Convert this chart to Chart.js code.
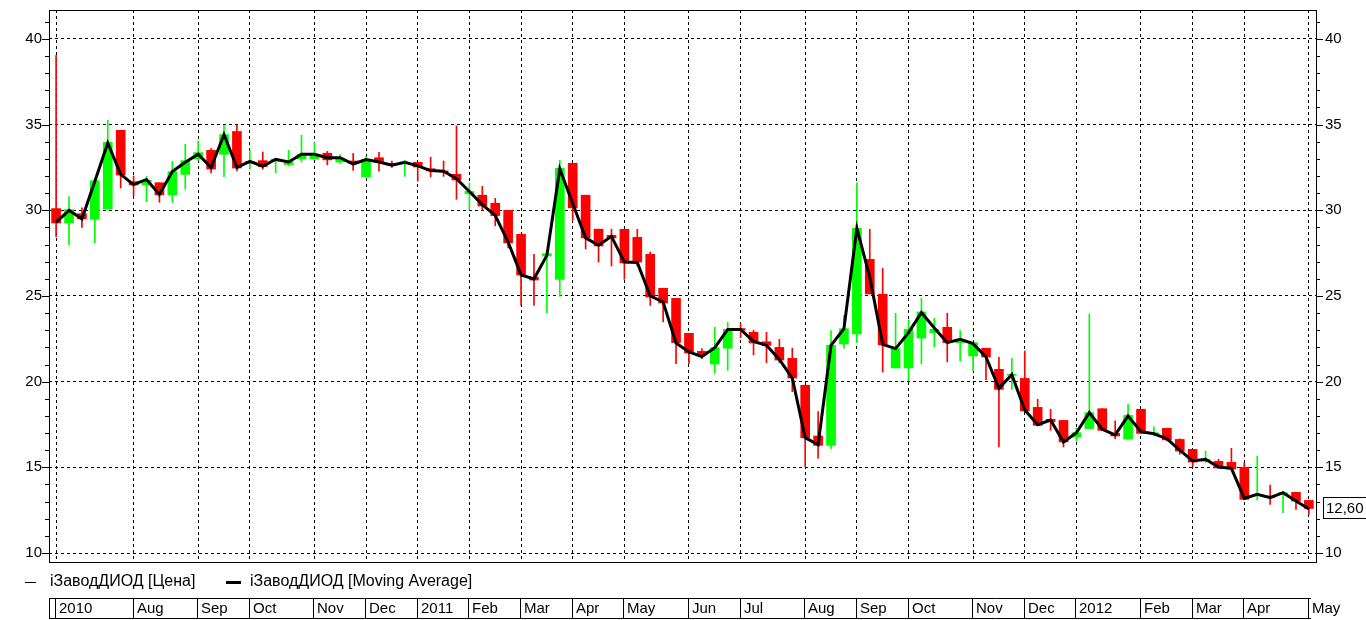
<!DOCTYPE html>
<html>
<head>
<meta charset="utf-8">
<title>iЗаводДИОД</title>
<script src="https://cdn.jsdelivr.net/npm/chart.js@4/dist/chart.umd.min.js"></script>
<style>
    html, body { margin: 0; padding: 0; background: #ffffff; }
    canvas { display: block; }
</style>
</head>
<body>
<canvas id="chart" width="1366" height="620"></canvas>
<script>
// Weekly candles, Jul 2010 - May 2012
const opens = [
    30.10, 29.26, 29.80, 29.47, 30.08, 34.67, 31.67, 31.48, 31.61, 30.90,
    32.10, 33.00, 33.50, 33.27, 34.60, 32.72, 32.90, 32.86, 32.67, 33.00,
    33.00, 33.33, 32.82, 32.88, 31.95, 33.07, 32.74, 32.72, 32.80, 32.43,
    32.30, 32.10, 30.97, 30.88, 30.41, 30.00, 28.60, 26.10, 27.33, 25.97,
    32.74, 30.88, 28.90, 28.54, 28.89, 28.42, 27.43, 25.45, 24.86, 22.82,
    21.77, 21.03, 21.95, 23.10, 22.88, 22.33, 22.00, 21.36, 19.79, 16.83,
    16.28, 22.20, 22.78, 27.14, 25.10, 20.80, 20.80, 22.55, 22.86, 23.17,
    22.28, 21.50, 21.95, 20.72, 20.37, 20.19, 18.50, 17.80, 17.74, 16.77,
    17.26, 18.42, 16.98, 16.65, 18.39, 16.95, 17.28, 16.63, 16.05, 15.35,
    15.35, 15.29, 15.00, 13.35, 13.33, 13.44, 13.54, 13.07
];
const closes = [
    29.26, 30.04, 29.50, 31.73, 33.97, 32.06, 31.48, 31.75, 30.90, 32.26,
    32.90, 33.37, 32.41, 34.42, 32.47, 32.86, 32.55, 32.98, 32.84, 33.27,
    33.17, 32.94, 32.98, 32.72, 32.96, 32.82, 32.63, 32.80, 32.53, 32.30,
    32.24, 31.77, 31.10, 30.25, 29.69, 28.10, 26.23, 25.93, 27.47, 32.45,
    30.14, 28.39, 27.92, 28.39, 26.93, 26.98, 24.94, 24.59, 22.28, 21.67,
    21.56, 21.98, 23.05, 23.00, 22.26, 22.12, 21.26, 20.21, 16.73, 16.28,
    22.12, 23.09, 28.95, 25.12, 22.14, 21.93, 23.05, 24.07, 23.05, 22.28,
    22.43, 22.28, 21.44, 19.55, 20.43, 18.29, 17.45, 17.67, 16.48, 17.02,
    18.19, 17.16, 16.83, 18.03, 16.98, 17.02, 16.60, 15.95, 15.31, 15.47,
    14.96, 14.90, 13.13, 13.42, 13.23, 13.52, 13.03, 12.60
];
const highs = [
    39.05, 30.80, 30.15, 31.87, 35.25, 34.67, 32.00, 31.98, 31.61, 32.86,
    33.85, 34.05, 33.60, 34.96, 34.96, 33.48, 33.40, 33.00, 33.50, 34.38,
    33.95, 33.44, 33.25, 33.33, 33.15, 33.38, 32.88, 32.92, 32.80, 33.10,
    32.88, 34.92, 31.58, 31.40, 30.70, 30.00, 28.60, 27.43, 27.47, 32.92,
    32.74, 30.88, 28.90, 28.90, 28.89, 28.89, 27.57, 25.45, 24.86, 22.82,
    21.93, 23.17, 23.46, 23.39, 23.00, 22.88, 22.47, 21.95, 19.79, 18.25,
    22.98, 23.87, 31.61, 28.89, 26.61, 23.99, 23.60, 24.86, 23.70, 23.99,
    22.98, 22.28, 21.95, 21.42, 21.36, 21.79, 18.97, 18.39, 17.74, 17.28,
    23.95, 18.42, 17.72, 18.68, 18.39, 17.37, 17.28, 16.67, 16.05, 15.95,
    15.47, 16.11, 15.27, 15.66, 13.97, 13.52, 13.54, 13.07
];
const lows = [
    28.46, 28.00, 29.00, 28.10, 30.08, 31.30, 30.84, 30.50, 30.47, 30.47,
    31.23, 32.90, 32.18, 31.96, 32.30, 32.40, 32.40, 32.18, 32.60, 32.82,
    33.00, 32.65, 32.72, 32.33, 31.95, 32.28, 32.50, 31.98, 31.70, 31.95,
    31.98, 30.64, 30.02, 30.00, 29.10, 27.80, 24.45, 24.45, 24.00, 24.98,
    29.42, 27.74, 26.98, 26.75, 25.97, 26.75, 24.45, 23.48, 21.05, 21.05,
    21.34, 20.49, 20.66, 22.57, 21.56, 21.11, 21.11, 19.42, 15.04, 15.54,
    16.09, 21.96, 22.28, 25.12, 20.56, 20.80, 20.06, 21.03, 22.02, 21.15,
    21.20, 20.64, 20.10, 16.19, 19.55, 18.29, 17.45, 17.16, 16.19, 16.54,
    17.26, 17.16, 16.67, 16.65, 16.98, 16.83, 16.54, 15.76, 15.04, 15.27,
    14.96, 14.90, 13.13, 13.09, 12.84, 12.35, 12.55, 12.26
];
const movingAvg = [
    29.30, 30.00, 29.50, 31.70, 33.93, 32.10, 31.50, 31.80, 30.93, 32.26,
    32.80, 33.27, 32.50, 34.42, 32.50, 32.86, 32.57, 32.98, 32.82, 33.27,
    33.27, 33.07, 33.07, 32.70, 32.96, 32.82, 32.63, 32.80, 32.59, 32.32,
    32.28, 31.85, 31.10, 30.33, 29.70, 28.15, 26.23, 26.00, 27.37, 32.41,
    30.40, 28.39, 27.96, 28.48, 26.98, 26.95, 25.00, 24.65, 22.25, 21.73,
    21.46, 21.98, 23.05, 23.05, 22.35, 22.12, 21.30, 20.21, 16.73, 16.32,
    22.12, 23.09, 28.95, 26.10, 22.18, 21.93, 22.86, 24.03, 23.13, 22.28,
    22.47, 22.22, 21.44, 19.61, 20.41, 18.35, 17.49, 17.76, 16.48, 17.02,
    18.19, 17.22, 16.89, 18.00, 17.08, 16.96, 16.67, 16.01, 15.37, 15.47,
    15.02, 14.94, 13.19, 13.42, 13.23, 13.52, 13.03, 12.57
];

// Month boundaries (week index of first candle) and their labels
const monthWeeks = [0, 6, 11, 15, 20, 24, 28, 32, 36, 40, 44, 49, 53, 58, 62, 66, 71, 75, 79, 84, 88, 92, 97];
const monthLabels = ['2010', 'Aug', 'Sep', 'Oct', 'Nov', 'Dec', '2011', 'Feb', 'Mar', 'Apr', 'May',
    'Jun', 'Jul', 'Aug', 'Sep', 'Oct', 'Nov', 'Dec', '2012', 'Feb', 'Mar', 'Apr', 'May'];

const seriesNames = ['iЗаводДИОД [Цена]', 'iЗаводДИОД [Moving Average]'];

const FONT = '"Liberation Sans", Arial, sans-serif';
const UP = '#00ff00';
const DOWN = '#ff0000';

const candleColor = (ctx) => closes[ctx.dataIndex] >= opens[ctx.dataIndex] ? UP : DOWN;

// keep the plot box fixed: no extra room for half labels
const noPadding = (scale) => {
    scale.paddingTop = 0;
    scale.paddingBottom = 0;
    scale.paddingLeft = 0;
    scale.paddingRight = 0;
};

// Frame, axis tick marks, legend, month strip and last value box
const decorations = {
    id: 'decorations',
    afterDraw(chart) {
        const ctx = chart.ctx;
        const area = chart.chartArea;
        const x = chart.scales.x;
        const y = chart.scales.y;

        ctx.save();
        ctx.strokeStyle = '#000';
        ctx.lineWidth = 1;
        ctx.setLineDash([]);

        // plot frame
        ctx.strokeRect(area.left + 0.5, area.top + 0.5, area.right - area.left, area.bottom - area.top);

        // y tick marks (long every 5, short every 1)
        ctx.beginPath();
        for (let v = 10; v <= 41; v++) {
            const py = Math.round(y.getPixelForValue(v)) + 0.5;
            const len = v % 5 === 0 ? 7 : 4;
            ctx.moveTo(area.left - len, py);
            ctx.lineTo(area.left, py);
            ctx.moveTo(area.right, py);
            ctx.lineTo(area.right + len, py);
        }
        ctx.stroke();

        // legend
        ctx.fillStyle = '#000';
        ctx.font = '16px ' + FONT;
        ctx.textBaseline = 'middle';
        ctx.textAlign = 'left';
        const ly = 582;
        ctx.beginPath();
        ctx.moveTo(25, ly + 0.5);
        ctx.lineTo(36, ly + 0.5);
        ctx.stroke();
        ctx.fillText(seriesNames[0], 50, ly);
        ctx.fillRect(226, ly - 1, 15, 3);
        ctx.fillText(seriesNames[1], 250, ly);

        // month strip
        ctx.font = '15px ' + FONT;
        const top = 598.5, bottom = 618.5;
        const stripEnd = Math.round(x.getPixelForValue(monthWeeks[monthWeeks.length - 1])) + 2;
        ctx.beginPath();
        ctx.moveTo(area.left, top);
        ctx.lineTo(stripEnd, top);
        ctx.moveTo(area.left, bottom);
        ctx.lineTo(stripEnd, bottom);
        ctx.moveTo(area.left + 0.5, top);
        ctx.lineTo(area.left + 0.5, bottom);
        monthWeeks.forEach((w) => {
            const px = Math.round(x.getPixelForValue(w)) - 0.5;
            ctx.moveTo(px, top);
            ctx.lineTo(px, bottom);
        });
        ctx.stroke();
        monthWeeks.forEach((w, i) => {
            const px = Math.round(x.getPixelForValue(w));
            ctx.fillText(monthLabels[i], px + 3, 609);
        });

        // last value box
        const last = closes[closes.length - 1];
        const vy = Math.round(y.getPixelForValue(last));
        ctx.fillStyle = '#fff';
        ctx.fillRect(area.right + 7, vy - 10, 44, 21);
        ctx.strokeRect(area.right + 7.5, vy - 10.5, 44, 21);
        ctx.fillStyle = '#000';
        ctx.fillText(last.toFixed(2).replace('.', ','), area.right + 10, vy + 1);
        ctx.restore();
    }
};

const weeks = opens.map((_, i) => i);

// shared price tick options (labels every 5)
const priceTicks = (pad) => ({
    stepSize: 1,
    maxTicksLimit: 50,
    autoSkip: false,
    includeBounds: false,
    padding: pad,
    color: '#000',
    font: { family: FONT, size: 15 },
    callback: (v) => v % 5 === 0 ? String(v) : ''
});

new Chart(document.getElementById('chart'), {
    type: 'bar',
    data: {
        datasets: [
            {
                // moving average line on top
                type: 'line',
                label: seriesNames[1],
                data: weeks.map(i => ({ x: i, y: movingAvg[i] })),
                borderColor: '#000',
                borderWidth: 3,
                pointRadius: 0,
                tension: 0,
                order: 1
            },
            {
                // candle bodies
                label: seriesNames[0],
                data: weeks.map(i => ({ x: i, y: [opens[i], closes[i]] })),
                backgroundColor: candleColor,
                borderWidth: 0,
                barThickness: 9,
                minBarLength: 1,
                grouped: false,
                order: 2
            },
            {
                // wicks
                label: 'wick',
                data: weeks.map(i => ({ x: i, y: [lows[i], highs[i]] })),
                backgroundColor: candleColor,
                borderWidth: 0,
                barThickness: 1,
                grouped: false,
                order: 3
            }
        ]
    },
    options: {
        responsive: false,
        animation: false,
        events: [],
        layout: { padding: { top: 10, left: 0, right: 0, bottom: 0 } },
        plugins: {
            legend: { display: false },
            tooltip: { enabled: false },
            title: { display: false }
        },
        scales: {
            x: {
                type: 'linear',
                min: -0.55,
                max: 97.55,
                offset: false,
                afterBuildTicks: (scale) => { scale.ticks = monthWeeks.map(v => ({ value: v })); },
                afterFit: (scale) => { scale.height = 58; noPadding(scale); },
                ticks: { display: false },
                grid: { color: '#000', lineWidth: 1, drawTicks: false, offset: false },
                border: { display: false, dash: [3, 3] }
            },
            y: {
                position: 'left',
                min: 9.475,
                max: 41.69,
                afterFit: (scale) => { scale.width = 49; noPadding(scale); },
                ticks: priceTicks(7),
                grid: {
                    drawTicks: false,
                    color: (ctx) => ctx.tick && ctx.tick.value % 5 === 0 ? '#000' : 'rgba(0,0,0,0)'
                },
                border: { display: false, dash: [3, 3] }
            },
            y2: {
                position: 'right',
                min: 9.475,
                max: 41.69,
                afterFit: (scale) => { scale.width = 50; noPadding(scale); },
                ticks: priceTicks(9),
                grid: { drawOnChartArea: false, drawTicks: false },
                border: { display: false }
            }
        }
    },
    plugins: [decorations]
});
</script>
</body>
</html>
